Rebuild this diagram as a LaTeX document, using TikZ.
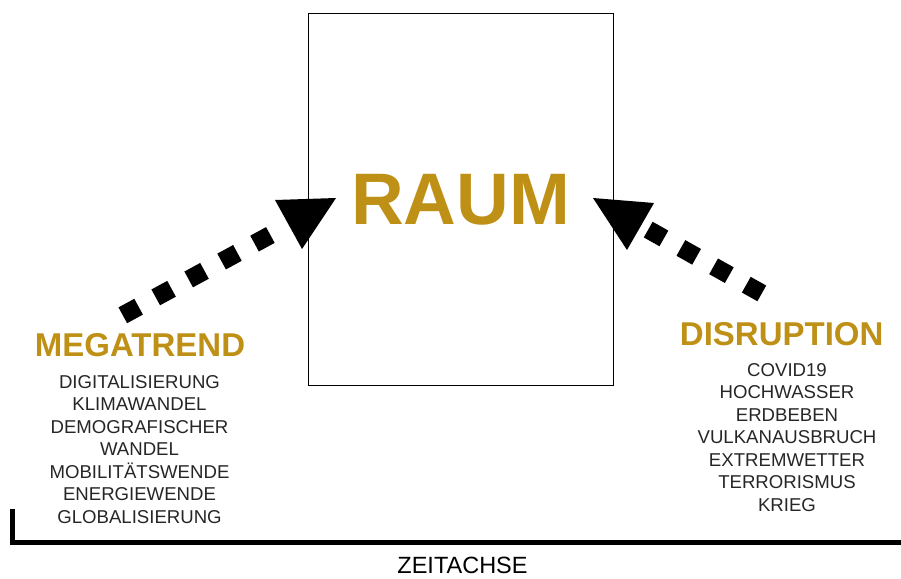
\documentclass[tikz,border=0pt]{standalone}
\usepackage{fontspec}
\setmainfont{Liberation Sans}
\definecolor{gold}{RGB}{190,144,22}
\tikzset{
  heading/.style={text=gold, inner sep=0pt, font=\fontsize{33}{36}\selectfont\bfseries},
  itemlist/.style={align=center, inner sep=0pt, text=black!85, font=\fontsize{18.6}{22.5}\selectfont},
  squaredots/.style={line width=18pt, dash pattern=on 18pt off 19.5pt},
  tiphead/.style={fill=black, draw=none},
}
\begin{document}
\begin{tikzpicture}[x=1pt, y=-1pt]
  \useasboundingbox (0,0) rectangle (901,578);

  % central box
  \node[draw, line width=1pt, minimum width=305pt, minimum height=371pt, inner sep=0pt,
        text=gold, font=\fontsize{73}{80}\selectfont\bfseries] (raum) at (460.7,199.5) {RAUM};

  % left side: megatrends
  \node[heading] (mega) at (140,345) {MEGATREND};
  \node[itemlist] (megalist) at (139.5,449.2) {DIGITALISIERUNG\\KLIMAWANDEL\\DEMOGRAFISCHER\\WANDEL\\MOBILITÄTSWENDE\\ENERGIEWENDE\\GLOBALISIERUNG};

  % right side: disruptions
  \node[heading] (disr) at (781.7,334) {DISRUPTION};
  \node[itemlist] (disrlist) at (787,437.5) {COVID19\\HOCHWASSER\\ERDBEBEN\\VULKANAUSBRUCH\\EXTREMWETTER\\TERRORISMUS\\KRIEG};

  % dotted connectors with triangular heads
  \coordinate (ls) at (122.8,315.3);
  \coordinate (le) at (270.9,234.7);
  \draw[squaredots] (ls) -- (le);
  \fill[tiphead] (275,200) -- (336,198) -- (302,249) -- cycle;

  \coordinate (rs) at (648.2,229.6);
  \coordinate (re) at (761.8,293.4);
  \draw[squaredots] (rs) -- (re);
  \fill[tiphead] (593,198) -- (654,203) -- (627,250) -- cycle;

  % time axis
  \coordinate (axtop) at (12.5,509);
  \coordinate (axend) at (901,542.5);
  \draw[line width=5pt] (axtop) |- (axend);
  \node[inner sep=0pt, font=\fontsize{23.5}{26}\selectfont] (zeit) at (462.5,565.5) {ZEITACHSE};
\end{tikzpicture}
\end{document}
